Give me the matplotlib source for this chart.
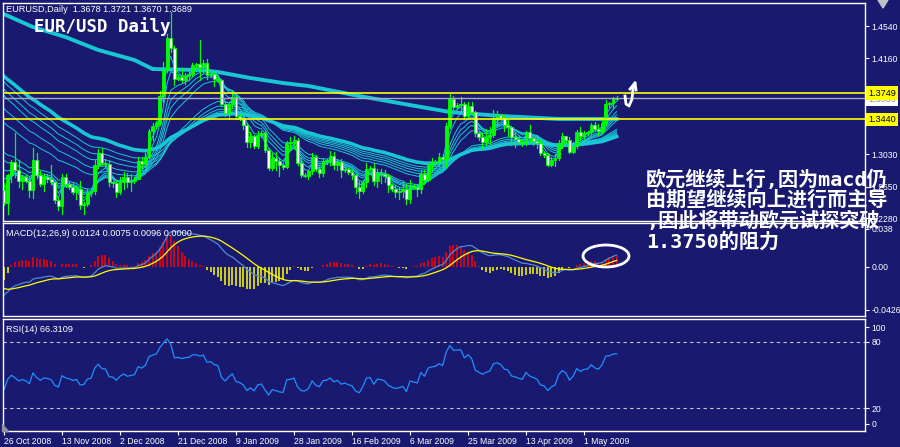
import numpy as np
import matplotlib
matplotlib.use("Agg")
import matplotlib.pyplot as plt
from matplotlib.patches import Rectangle, Ellipse, Polygon
from matplotlib.lines import Line2D

W, H = 900, 447
BG = "#191970"
UI_FONT = "Liberation Sans"

# daily EUR/USD bars, 26 Oct 2008 .. 12 May 2009 (Sunday bars included)
opens = [
    1.2610, 1.2460, 1.2790, 1.2940, 1.2850, 1.2720, 1.2760, 1.2720, 1.2610, 1.2960,
    1.2790, 1.2680, 1.2760, 1.2740, 1.2700, 1.2490, 1.2420, 1.2760, 1.2680, 1.2650,
    1.2590, 1.2620, 1.2430, 1.2440, 1.2580, 1.2600, 1.2900, 1.3050, 1.2930, 1.2920,
    1.2700, 1.2690, 1.2590, 1.2700, 1.2760, 1.2700, 1.2720, 1.2740, 1.2950, 1.2920,
    1.3000, 1.3300, 1.3360, 1.3400, 1.3720, 1.4020, 1.4400, 1.4280, 1.3920, 1.3940,
    1.3910, 1.3950, 1.3970, 1.4080, 1.4090, 1.4060, 1.4110, 1.3960, 1.3980, 1.3920,
    1.3900, 1.3620, 1.3520, 1.3620, 1.3700, 1.3480, 1.3450, 1.3380, 1.3180, 1.3240,
    1.3130, 1.3260, 1.3280, 1.3080, 1.2870, 1.2990, 1.2950, 1.2900, 1.2880, 1.3160,
    1.3170, 1.3200, 1.2930, 1.2790, 1.2780, 1.2830, 1.3000, 1.2860, 1.2810, 1.2950,
    1.2960, 1.3010, 1.2910, 1.2940, 1.2840, 1.2860, 1.2820, 1.2790, 1.2650, 1.2600,
    1.2700, 1.2860, 1.2870, 1.2710, 1.2810, 1.2800, 1.2770, 1.2670, 1.2620, 1.2590,
    1.2600, 1.2620, 1.2500, 1.2660, 1.2640, 1.2620, 1.2800, 1.2730, 1.2900, 1.2930,
    1.2940, 1.3000, 1.2970, 1.3360, 1.3680, 1.3590, 1.3610, 1.3620, 1.3480, 1.3600,
    1.3530, 1.3280, 1.3230, 1.3180, 1.3230, 1.3260, 1.3460, 1.3490, 1.3460, 1.3370,
    1.3350, 1.3230, 1.3210, 1.3180, 1.3160, 1.3290, 1.3220, 1.3190, 1.3160, 1.3040,
    1.3020, 1.2910, 1.2960, 1.2990, 1.3160, 1.3240, 1.3200, 1.3060, 1.3130, 1.3290,
    1.3240, 1.3280, 1.3290, 1.3380, 1.3330, 1.3310, 1.3400, 1.3620, 1.3630, 1.3678,
]
highs = [
    1.2690, 1.2800, 1.2960, 1.3280, 1.2960, 1.2780, 1.2790, 1.2760, 1.3100, 1.3050,
    1.2830, 1.2800, 1.2800, 1.2900, 1.2720, 1.2520, 1.2800, 1.2800, 1.2700, 1.2700,
    1.2660, 1.2720, 1.2470, 1.2620, 1.2620, 1.2960, 1.3090, 1.3100, 1.2980, 1.2950,
    1.2720, 1.2720, 1.2760, 1.2820, 1.2810, 1.2800, 1.2760, 1.3000, 1.3000, 1.3050,
    1.3330, 1.3400, 1.3420, 1.3780, 1.4120, 1.4450, 1.4710, 1.4310, 1.3960, 1.4050,
    1.3990, 1.4020, 1.4100, 1.4110, 1.4380, 1.4140, 1.4150, 1.4000, 1.4000, 1.3930,
    1.3920, 1.3660, 1.3650, 1.3780, 1.3720, 1.3500, 1.3480, 1.3400, 1.3290, 1.3260,
    1.3300, 1.3300, 1.3300, 1.3100, 1.3050, 1.3060, 1.2990, 1.2920, 1.3190, 1.3230,
    1.3250, 1.3220, 1.2990, 1.2810, 1.2850, 1.3040, 1.3020, 1.2900, 1.2990, 1.2970,
    1.3070, 1.3060, 1.2970, 1.2970, 1.2900, 1.2870, 1.2840, 1.2800, 1.2720, 1.2720,
    1.2930, 1.2890, 1.2930, 1.2860, 1.2860, 1.2850, 1.2800, 1.2680, 1.2670, 1.2650,
    1.2720, 1.2680, 1.2730, 1.2680, 1.2670, 1.2840, 1.2850, 1.2920, 1.2990, 1.2960,
    1.3050, 1.3030, 1.3400, 1.3738, 1.3720, 1.3630, 1.3700, 1.3650, 1.3640, 1.3650,
    1.3540, 1.3290, 1.3280, 1.3330, 1.3350, 1.3550, 1.3540, 1.3500, 1.3490, 1.3430,
    1.3360, 1.3290, 1.3240, 1.3200, 1.3300, 1.3380, 1.3260, 1.3260, 1.3200, 1.3060,
    1.3040, 1.3000, 1.3030, 1.3200, 1.3280, 1.3250, 1.3230, 1.3180, 1.3320, 1.3350,
    1.3310, 1.3300, 1.3400, 1.3410, 1.3390, 1.3440, 1.3670, 1.3650, 1.3700, 1.3721,
]
lows = [
    1.2430, 1.2330, 1.2700, 1.2760, 1.2640, 1.2620, 1.2700, 1.2530, 1.2520, 1.2750,
    1.2660, 1.2600, 1.2700, 1.2680, 1.2460, 1.2380, 1.2330, 1.2640, 1.2620, 1.2560,
    1.2500, 1.2390, 1.2330, 1.2420, 1.2540, 1.2560, 1.2870, 1.2900, 1.2880, 1.2660,
    1.2650, 1.2530, 1.2560, 1.2620, 1.2640, 1.2600, 1.2690, 1.2740, 1.2870, 1.2880,
    1.2990, 1.3200, 1.3340, 1.3380, 1.3650, 1.4000, 1.4230, 1.3840, 1.3900, 1.3880,
    1.3860, 1.3900, 1.3950, 1.4050, 1.3900, 1.4000, 1.3920, 1.3940, 1.3830, 1.3880,
    1.3600, 1.3480, 1.3450, 1.3580, 1.3450, 1.3430, 1.3330, 1.3120, 1.3120, 1.3100,
    1.3110, 1.3230, 1.3060, 1.2850, 1.2840, 1.2850, 1.2780, 1.2860, 1.2870, 1.3080,
    1.3110, 1.2900, 1.2760, 1.2760, 1.2740, 1.2800, 1.2830, 1.2760, 1.2770, 1.2920,
    1.2900, 1.2860, 1.2850, 1.2760, 1.2820, 1.2800, 1.2740, 1.2570, 1.2510, 1.2570,
    1.2650, 1.2840, 1.2670, 1.2650, 1.2690, 1.2700, 1.2590, 1.2600, 1.2530, 1.2500,
    1.2530, 1.2450, 1.2460, 1.2620, 1.2540, 1.2580, 1.2680, 1.2710, 1.2850, 1.2900,
    1.2890, 1.2880, 1.2880, 1.3340, 1.3550, 1.3570, 1.3530, 1.3440, 1.3440, 1.3500,
    1.3240, 1.3200, 1.3110, 1.3140, 1.3150, 1.3230, 1.3380, 1.3440, 1.3310, 1.3250,
    1.3140, 1.3120, 1.3160, 1.3130, 1.3140, 1.3180, 1.3140, 1.3110, 1.3020, 1.3000,
    1.2890, 1.2890, 1.2890, 1.2960, 1.3110, 1.3180, 1.3050, 1.3050, 1.3100, 1.3200,
    1.3210, 1.3260, 1.3270, 1.3300, 1.3260, 1.3280, 1.3380, 1.3590, 1.3580, 1.3670,
]
closes = [
    1.2460, 1.2790, 1.2940, 1.2850, 1.2720, 1.2760, 1.2720, 1.2610, 1.2960, 1.2790,
    1.2680, 1.2760, 1.2740, 1.2700, 1.2490, 1.2420, 1.2760, 1.2680, 1.2650, 1.2590,
    1.2620, 1.2430, 1.2440, 1.2580, 1.2600, 1.2900, 1.3050, 1.2930, 1.2920, 1.2700,
    1.2690, 1.2590, 1.2700, 1.2760, 1.2700, 1.2720, 1.2740, 1.2950, 1.2920, 1.3000,
    1.3300, 1.3360, 1.3400, 1.3720, 1.4020, 1.4400, 1.4280, 1.3920, 1.3940, 1.3910,
    1.3950, 1.3970, 1.4080, 1.4090, 1.4060, 1.4110, 1.3960, 1.3980, 1.3920, 1.3900,
    1.3620, 1.3520, 1.3620, 1.3700, 1.3480, 1.3450, 1.3380, 1.3180, 1.3240, 1.3130,
    1.3260, 1.3280, 1.3080, 1.2870, 1.2990, 1.2950, 1.2900, 1.2880, 1.3160, 1.3170,
    1.3200, 1.2930, 1.2790, 1.2780, 1.2830, 1.3000, 1.2860, 1.2810, 1.2950, 1.2960,
    1.3010, 1.2910, 1.2940, 1.2840, 1.2860, 1.2820, 1.2790, 1.2650, 1.2600, 1.2700,
    1.2860, 1.2870, 1.2710, 1.2810, 1.2800, 1.2770, 1.2670, 1.2620, 1.2590, 1.2600,
    1.2620, 1.2500, 1.2660, 1.2640, 1.2620, 1.2800, 1.2730, 1.2900, 1.2930, 1.2940,
    1.3000, 1.2970, 1.3360, 1.3680, 1.3590, 1.3610, 1.3620, 1.3480, 1.3600, 1.3530,
    1.3280, 1.3230, 1.3180, 1.3230, 1.3260, 1.3460, 1.3490, 1.3460, 1.3370, 1.3350,
    1.3230, 1.3210, 1.3180, 1.3160, 1.3290, 1.3220, 1.3190, 1.3160, 1.3040, 1.3020,
    1.2910, 1.2960, 1.2990, 1.3160, 1.3240, 1.3200, 1.3060, 1.3130, 1.3290, 1.3240,
    1.3280, 1.3290, 1.3380, 1.3330, 1.3310, 1.3400, 1.3620, 1.3630, 1.3678, 1.3689,
]

date_ticks = [0, 16, 32, 48, 64, 80, 96, 112, 128, 144, 160]
date_labels = ["26 Oct 2008", "13 Nov 2008", "2 Dec 2008", "21 Dec 2008", "9 Jan 2009",
               "28 Jan 2009", "16 Feb 2009", "6 Mar 2009", "25 Mar 2009", "13 Apr 2009",
               "1 May 2009"]

# slow 200-day average (read at sample bars)
ma200_bars = [0, 8, 17, 26, 36, 41, 54, 59, 68, 77, 84, 98, 112, 123, 137, 153, 169]
ma200_vals = [1.4680, 1.4528, 1.4410, 1.4258, 1.4140, 1.4034, 1.4022, 1.3999, 1.3928,
              1.3869, 1.3834, 1.3716, 1.3610, 1.3528, 1.3481, 1.3446, 1.3446]

# guppy ribbon: spans and the average value carried in from before the window
gmma_spans = [3, 5, 8, 10, 12, 15, 30, 35, 40, 45, 50]
gmma_seeds = [1.2610, 1.2704, 1.2822, 1.2928, 1.3046, 1.3140, 1.3469, 1.3634, 1.3787,
              1.3857, 1.3940]
ema60_seed = 1.3999

macd_seeds = {"fast": 1.2720, "slow": 1.3000, "signal": -0.0200}
rsi_seeds = {"gain": 0.0055, "loss": 0.0085, "prev": 1.2610}

levels = [1.3749, 1.3440]
bid = 1.3689
price_ticks = [1.4540, 1.4160, 1.3030, 1.2650, 1.2280]
macd_ticks = [0.038, 0.0, -0.0426]
macd_tick_labels = ["0.038", "0.00", "-0.0426"]
rsi_ticks = [93.6, 80, 20, 5.5]
rsi_tick_labels = ["100", "80", "20", "0"]

note_lines = ["欧元继续上行,因为macd仍", "由期望继续向上进行而主导",
              ",因此将带动欧元试探突破", "1.3750的阻力"]


def ema(values, span, seed):
    a = 2.0 / (span + 1)
    out = np.empty(len(values))
    prev = seed
    for i, v in enumerate(values):
        prev = prev + a * (v - prev)
        out[i] = prev
    return out


def wilder_rsi(values, period, gain, loss, prev):
    out = np.empty(len(values))
    for i, v in enumerate(values):
        ch = v - prev
        gain = (gain * (period - 1) + max(ch, 0)) / period
        loss = (loss * (period - 1) + max(-ch, 0)) / period
        out[i] = 100 - 100 / (1 + gain / loss)
        prev = v
    return out


def fx(x):
    return x / W


def fy(y):
    return 1 - y / H


c = np.array(closes)
n = len(c)
bars = np.arange(n)

macd_main = ema(c, 12, macd_seeds["fast"]) - ema(c, 26, macd_seeds["slow"])
macd_sig = ema(macd_main, 9, macd_seeds["signal"])
macd_hist = 2 * (macd_main - macd_sig)
rsi = wilder_rsi(c, 14, rsi_seeds["gain"], rsi_seeds["loss"], rsi_seeds["prev"])

fig = plt.figure(figsize=(W / 100, H / 100), dpi=100, facecolor=BG)

# bar i sits at pixel 4 + 3.625*i, frame spans pixels 3..865
xlim = ((3 - 4) / 3.625, (865 - 4) / 3.625)

ax = fig.add_axes([fx(3), fy(221), fx(862), 218 / H], facecolor=BG)
ax_m = fig.add_axes([fx(3), fy(316), fx(862), 93 / H], facecolor=BG, sharex=ax)
ax_r = fig.add_axes([fx(3), fy(431), fx(862), 112 / H], facecolor=BG, sharex=ax)

for a in (ax, ax_m, ax_r):
    for s in a.spines.values():
        s.set_color("white")
        s.set_linewidth(1)
    a.yaxis.tick_right()
    a.tick_params(axis="y", colors="white", labelsize=6.2, length=3, width=0.8, pad=1.5)
    a.tick_params(axis="x", bottom=False, labelbottom=False)
ax.set_xlim(*xlim)

# --- price panel ---
ax.set_ylim(1.2245, 1.4811)
cyan = "#19c6d4"
for span, seed in zip(gmma_spans, gmma_seeds):
    ax.plot(bars, ema(c, span, seed), color=cyan, lw=0.7, zorder=2)
ax.plot(bars, ema(c, 60, ema60_seed), color=cyan, lw=2.6, zorder=2.5)
ax.plot(ma200_bars, ma200_vals, color=cyan, lw=2.8, zorder=2.5)

for i in range(n):
    o, hi, lo, cl = opens[i], highs[i], lows[i], closes[i]
    ax.plot([i, i], [lo, hi], color="#00ff00", lw=0.9, zorder=3)
    bull = cl >= o
    bottom = min(o, cl)
    h = max(abs(cl - o), 0.0004)
    ax.add_patch(Rectangle((i - 0.38, bottom), 0.76, h,
                           facecolor="#00ff00" if bull else "white",
                           edgecolor="#00ff00", lw=0.6, zorder=3.5))

for lv in levels:
    ax.axhline(lv, color="#ffff00", lw=1.2, zorder=4)
ax.axhline(bid, color="#a8a8bc", lw=1, zorder=3.8)

ax.set_yticks(price_ticks)
ax.set_yticklabels([f"{v:.4f}" for v in price_ticks])

bbox_kw = dict(boxstyle="square,pad=0.25", lw=0)
ax.text(1.004, bid - 0.0012, f"{bid:.4f}", transform=ax.get_yaxis_transform(),
        fontsize=6.6, family=UI_FONT, color="#9090a0", va="center", ha="left",
        zorder=5, clip_on=False, bbox=dict(facecolor="white", **bbox_kw))
for lv in levels:
    ax.text(1.004, lv, f"{lv:.4f}", transform=ax.get_yaxis_transform(), fontsize=6.6,
            family=UI_FONT, color="black", va="center", ha="left", zorder=6,
            clip_on=False, bbox=dict(facecolor="#ffff00", **bbox_kw))

# --- MACD panel ---
ax_m.set_ylim(-0.049, 0.044)
pos = macd_hist > 0
ax_m.vlines(bars[pos], 0, macd_hist[pos], color="#ff0000", lw=1.1)
ax_m.vlines(bars[~pos], 0, macd_hist[~pos], color="#ffff00", lw=1.1)
ax_m.plot(bars, macd_main, color="#4f8ad0", lw=0.9)
ax_m.plot(bars, macd_sig, color="#ffff00", lw=0.9)
ax_m.set_yticks(macd_ticks)
ax_m.set_yticklabels(macd_tick_labels)

# --- RSI panel ---
ax_r.set_ylim(-0.9, 100.9)
for lv in (80, 20):
    ax_r.axhline(lv, color="#c8c8d0", lw=0.8, ls=(0, (3, 3)))
ax_r.plot(bars, rsi, color="#1e90ff", lw=0.9)
ax_r.set_yticks(rsi_ticks)
ax_r.set_yticklabels(rsi_tick_labels)
ax_r.tick_params(axis="x", bottom=True, labelbottom=True, colors="white",
                 labelsize=6.2, length=3, width=0.8, pad=1)
ax_r.set_xticks(date_ticks)
ax_r.set_xticklabels(date_labels)
for lab in ax_r.get_xticklabels():
    lab.set_ha("left")

for a in (ax, ax_m, ax_r):
    for lab in a.get_yticklabels() + a.get_xticklabels():
        lab.set_family(UI_FONT)

# --- headers and notes ---
fig.text(fx(6), fy(10), "EURUSD,Daily  1.3678 1.3721 1.3670 1.3689", color="white",
         fontsize=6.6, family=UI_FONT, va="center")
fig.text(fx(6), fy(234), "MACD(12,26,9) 0.0124 0.0075 0.0096 0.0000", color="white",
         fontsize=6.6, family=UI_FONT, va="center")
fig.text(fx(6), fy(329), "RSI(14) 66.3109", color="white", fontsize=6.6,
         family=UI_FONT, va="center")
fig.text(fx(34), fy(27), "EUR/USD Daily", color="white", fontsize=12.5,
         family="DejaVu Sans Mono", weight="bold", va="center")

for line, yc in zip(note_lines, [180, 200, 221, 242]):
    fig.text(fx(646), fy(yc), line, color="white", fontsize=14.5, weight="bold",
             family=["DejaVu Sans Mono", "Noto Sans CJK SC"], va="center", ha="left")

# circled MACD cross
fig.add_artist(Ellipse((fx(606), fy(256)), 46 / W, 22 / H, transform=fig.transFigure,
                       fill=False, edgecolor="white", lw=2))

# hand-drawn arrow next to the last bars
arrow_x = [625, 626, 629, 632, 633, 635]
arrow_y = [96, 104, 106, 99, 89, 83]
fig.add_artist(Line2D([fx(v) for v in arrow_x], [fy(v) for v in arrow_y],
                      transform=fig.transFigure, color="white", lw=2))
fig.add_artist(Line2D([fx(630), fx(635), fx(636)], [fy(89), fy(83), fy(90)],
                      transform=fig.transFigure, color="white", lw=2))

# chart-shift markers
fig.add_artist(Polygon([(fx(878), fy(0)), (fx(888), fy(0)), (fx(883), fy(8))],
                       closed=True, transform=fig.transFigure, color="#c0c0c8"))
fig.add_artist(Polygon([(fx(2), fy(424)), (fx(2), fy(431)), (fx(8), fy(431))],
                       closed=True, transform=fig.transFigure, color="#9090a0"))

fig.savefig("out.png", dpi=100, facecolor=BG)
